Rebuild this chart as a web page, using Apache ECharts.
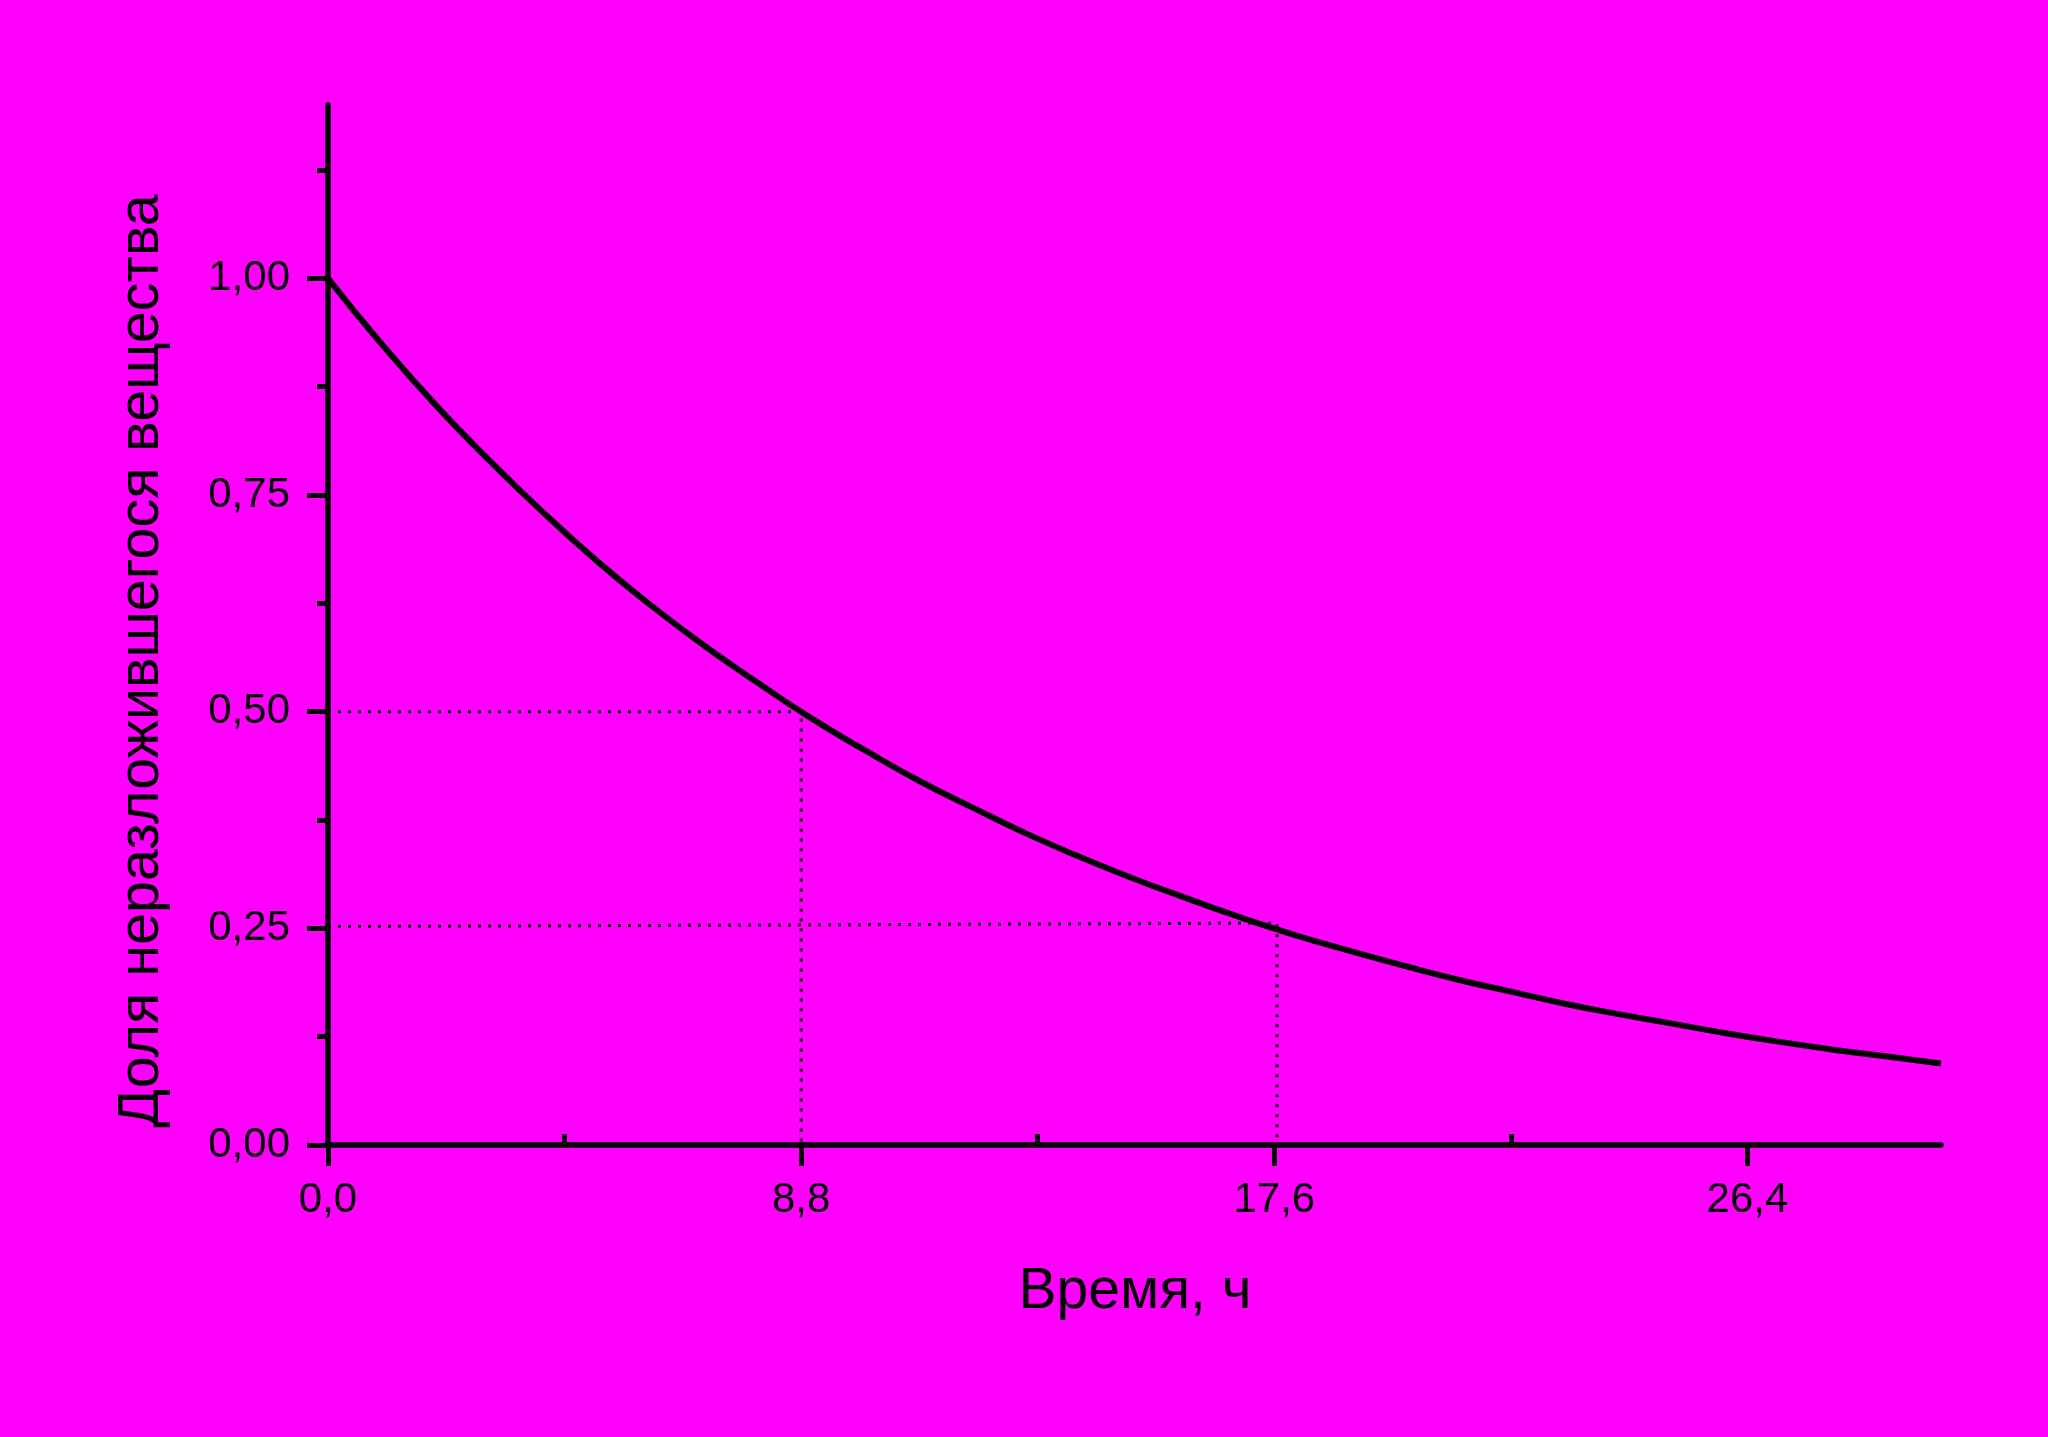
<!DOCTYPE html>
<html>
<head>
<meta charset="utf-8">
<script src="https://cdn.jsdelivr.net/npm/echarts@6/dist/echarts.min.js"></script>
<style>
  html, body { margin: 0; padding: 0; background: #ff00ff; }
  #chart { width: 2048px; height: 1437px; }
</style>
</head>
<body>
<div id="chart"></div>
<script>
// время, ч
const timeHours = [0, 1, 2, 3, 4, 5, 6, 7, 8, 9, 10, 11, 12, 13, 14, 15,
  16, 17, 18, 19, 20, 21, 22, 23, 24, 25, 26, 27, 28, 29, 30];
// доля неразложившегося вещества
const fraction = [1.000, 0.924, 0.854, 0.790, 0.730, 0.674, 0.623, 0.576, 0.533, 0.492,
  0.455, 0.420, 0.389, 0.359, 0.332, 0.307, 0.284, 0.262, 0.242, 0.224,
  0.207, 0.191, 0.177, 0.163, 0.151, 0.140, 0.129, 0.119, 0.110, 0.102, 0.094];

// пунктирные линии (период полураспада)
const guideHalf = [[0, 0.5], [8.8, 0.5], [8.8, 0]];
const guideQuarter = [[0, 0.252], [17.65, 0.256], [17.65, 0]];

const xMajorTicks = [0, 8.8, 17.6, 26.4];
const xMinorTicks = [4.4, 13.2, 22.0];
const yMajorTicks = [0, 0.25, 0.5, 0.75, 1.0];
const yMinorTicks = [0.125, 0.375, 0.625, 0.875, 1.125];

const fontFamily = '"Liberation Sans", Arial, sans-serif';
const black = '#000000';

const chart = echarts.init(document.getElementById('chart'));

const labelStyle = { color: black, fontSize: 42, fontFamily: fontFamily };

const option = {
  backgroundColor: '#ff00ff',
  animation: false,
  grid: { left: 328, right: 107, top: 105, bottom: 292 },
  xAxis: [
    {
      type: 'value', min: 0, max: 30,
      axisLine: { show: true, lineStyle: { color: black, width: 5.5 } },
      axisTick: { show: true, inside: false, length: 21, customValues: xMajorTicks,
        lineStyle: { color: black, width: 5 } },
      axisLabel: Object.assign({ margin: 34, customValues: xMajorTicks,
        formatter: v => v.toFixed(1).replace('.', ',') }, labelStyle),
      splitLine: { show: false }
    },
    {
      type: 'value', min: 0, max: 30,
      axisLine: { show: false },
      axisTick: { show: true, inside: false, length: 11, customValues: xMinorTicks,
        lineStyle: { color: black, width: 5 } },
      axisLabel: { show: false },
      splitLine: { show: false }
    }
  ],
  yAxis: [
    {
      type: 'value', min: 0, max: 1.2,
      axisLine: { show: true, lineStyle: { color: black, width: 5.5 } },
      axisTick: { show: true, inside: false, length: 21, customValues: yMajorTicks,
        lineStyle: { color: black, width: 5 } },
      axisLabel: Object.assign({ margin: 38, customValues: yMajorTicks,
        formatter: v => v.toFixed(2).replace('.', ',') }, labelStyle),
      splitLine: { show: false }
    },
    {
      type: 'value', min: 0, max: 1.2, position: 'left',
      axisLine: { show: false },
      axisTick: { show: true, inside: false, length: 11, customValues: yMinorTicks,
        lineStyle: { color: black, width: 5 } },
      axisLabel: { show: false },
      splitLine: { show: false }
    }
  ],
  graphic: [
    {
      type: 'text', x: 1135, y: 1292,
      style: { text: 'Время, ч', fill: black, fontSize: 57, fontFamily: fontFamily,
        textAlign: 'center', textVerticalAlign: 'middle' }
    },
    {
      type: 'text', x: 142, y: 661, rotation: Math.PI / 2,
      style: { text: 'Доля неразложившегося вещества', fill: black, fontSize: 57.5,
        fontFamily: fontFamily, textAlign: 'center', textVerticalAlign: 'middle' }
    }
  ],
  series: [
    {
      type: 'line', data: guideHalf, symbol: 'none', silent: true,
      lineStyle: { color: black, width: 3, type: [3, 7] }
    },
    {
      type: 'line', data: guideQuarter, symbol: 'none', silent: true,
      lineStyle: { color: black, width: 3, type: [3, 7] }
    },
    {
      type: 'line', data: timeHours.map((t, i) => [t, fraction[i]]),
      symbol: 'none', smooth: true,
      lineStyle: { color: black, width: 6 }
    }
  ]
};

chart.setOption(option);
</script>
</body>
</html>
